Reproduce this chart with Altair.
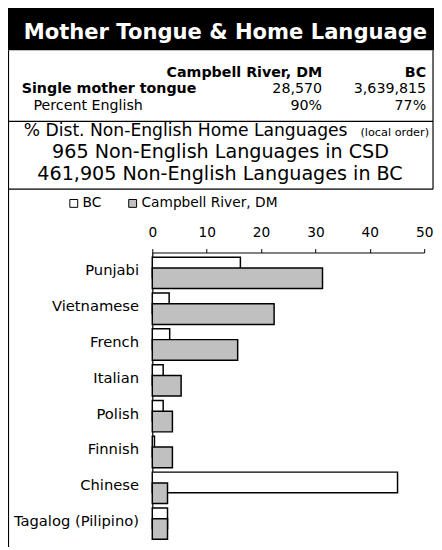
import altair as alt
import pandas as pd

# ---------------- data ----------------
TITLE = "Mother Tongue & Home Language"
AREAS = ["Campbell River, DM", "BC"]
SINGLE_LABEL = "Single mother tongue"
SINGLE_MOTHER_TONGUE = ["28,570", "3,639,815"]
PERCENT_LABEL = "Percent English"
PERCENT_ENGLISH = ["90%", "77%"]
DIST_TITLE = "% Dist. Non-English Home Languages"
DIST_NOTE = "(local order)"
CSD_LINE = "965 Non-English Languages in CSD"
BC_LINE = "461,905 Non-English Languages in BC"

LANGUAGES = ["Punjabi", "Vietnamese", "French", "Italian", "Polish",
             "Finnish", "Chinese", "Tagalog (Pilipino)"]
SERIES = ["BC", "Campbell River, DM"]
BC_PCT = [16.2, 3.1, 3.2, 2.0, 2.0, 0.4, 45.1, 2.8]
CR_PCT = [31.3, 22.4, 15.7, 5.3, 3.7, 3.7, 2.8, 2.8]
X_TICKS = [0, 10, 20, 30, 40, 50]

df = pd.DataFrame({
    "language": LANGUAGES * 2,
    "series": [SERIES[0]] * len(LANGUAGES) + [SERIES[1]] * len(LANGUAGES),
    "value": BC_PCT + CR_PCT,
})

FONT = "DejaVu Sans"

# plot origin is at reference pixel (153, 252)
def px(v):
    return v - 153

def py(v):
    return v - 252

one = pd.DataFrame({"k": [0]})

def txt(s, x, y, size, bold=False, align="left", color="black", font=FONT):
    return alt.Chart(pd.DataFrame({"t": [s]})).mark_text(
        align=align, baseline="alphabetic", font=font, fontSize=size,
        fontWeight="bold" if bold else "normal", color=color
    ).encode(text="t:N", x=alt.value(x), y=alt.value(y))

def hrule(y, x1, x2):
    return alt.Chart(one).mark_rule(color="black", strokeWidth=1.2).encode(
        x=alt.value(x1), x2=alt.value(x2), y=alt.value(y))

def vrule(x, y1, y2):
    return alt.Chart(one).mark_rule(color="black", strokeWidth=1.2).encode(
        x=alt.value(x), y=alt.value(y1), y2=alt.value(y2))

LEFT = -146.5
RIGHT = 286

header_box = alt.Chart(one).mark_rect(color="black").encode(
    x=alt.value(-147), x2=alt.value(287), y=alt.value(py(0)), y2=alt.value(py(46)))

frame = [
    vrule(LEFT, py(46), py(552)),
    vrule(RIGHT, py(46), py(187.5)),
    hrule(py(118.5), LEFT, RIGHT),
    hrule(py(187.5), LEFT, RIGHT),
]

texts = [
    txt(TITLE, px(227.5), py(34.5), 21.5, bold=True, align="center", color="white"),
    txt(AREAS[0], px(326), py(73), 14.5, bold=True, align="right"),
    txt(AREAS[1], px(432), py(73), 14.5, bold=True, align="right"),
    txt(SINGLE_LABEL, px(20), py(90), 14.5, bold=True),
    txt(SINGLE_MOTHER_TONGUE[0], px(326), py(90), 14.5, align="right"),
    txt(SINGLE_MOTHER_TONGUE[1], px(432), py(90), 14.5, align="right"),
    txt(PERCENT_LABEL, px(32), py(107), 14.5),
    txt(PERCENT_ENGLISH[0], px(326), py(107), 14.5, align="right"),
    txt(PERCENT_ENGLISH[1], px(432), py(107), 14.5, align="right"),
    txt(DIST_TITLE, px(22), py(133.5), 17.5),
    txt(DIST_NOTE, px(435), py(133.5), 11.5, align="right"),
    txt(CSD_LINE, px(222.5), py(156), 19.5, align="center"),
    txt(BC_LINE, px(222), py(178.5), 19.5, align="center"),
]

x_enc = alt.X("value:Q",
              scale=alt.Scale(domain=[0, 50], nice=False, zero=True),
              axis=alt.Axis(orient="top", values=X_TICKS, title=None, grid=False,
                            domainColor="black", domainWidth=1, tickColor="black",
                            tickSize=4, labelPadding=9, labelFont=FONT,
                            labelFontSize=14, labelColor="black", labelFlush=False))
y_enc = alt.Y("language:N", sort=LANGUAGES,
              scale=alt.Scale(paddingInner=0, paddingOuter=0),
              axis=alt.Axis(title=None, ticks=False, domainColor="black",
                            domainWidth=1.2, labelPadding=14, labelFont=FONT,
                            labelFontSize=15, labelColor="black"))
fill_enc = alt.Fill("series:N",
                    scale=alt.Scale(domain=SERIES, range=["#ffffff", "#c0c0c0"]),
                    legend=alt.Legend(title=None, orient="none", legendX=px(66),
                                      legendY=py(195), direction="horizontal",
                                      symbolType="square", symbolSize=64,
                                      symbolStrokeColor="black", symbolStrokeWidth=1,
                                      labelFont=FONT, labelFontSize=14,
                                      labelColor="black", labelOffset=2,
                                      columnPadding=24, padding=0))

bc_bars = alt.Chart(df).transform_filter(alt.datum.series == SERIES[0]).mark_bar(
    size=21, yOffset=-3, stroke="black", strokeWidth=1.5
).encode(x=x_enc, y=y_enc, fill=fill_enc)

cr_bars = alt.Chart(df).transform_filter(alt.datum.series == SERIES[1]).mark_bar(
    size=21, yOffset=8, stroke="black", strokeWidth=1.5
).encode(x=x_enc, y=y_enc, fill=fill_enc)

chart = alt.layer(
    header_box, *frame, *texts, bc_bars, cr_bars
).properties(
    width=277, height=292,
    autosize=alt.AutoSizeParams(type="none"),
    padding={"left": 147, "top": 244, "right": 10, "bottom": 6},
).configure_view(stroke=None)

chart.save("out.html", embed_options={"renderer": "svg", "actions": False})
